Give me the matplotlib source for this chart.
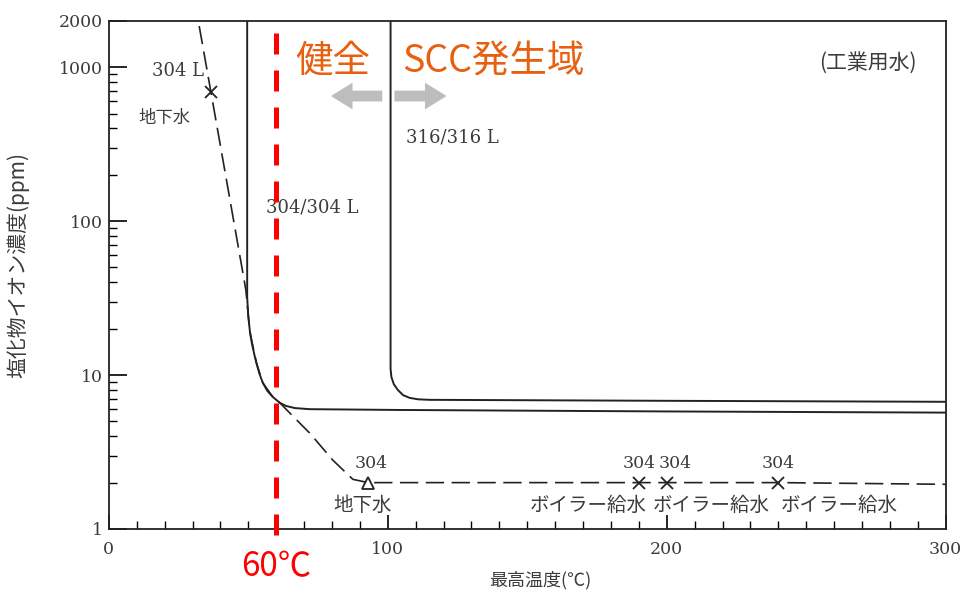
import numpy as np
import matplotlib
matplotlib.use("Agg")
from matplotlib import pyplot as plt
from matplotlib.ticker import LogLocator, NullFormatter
from matplotlib.patches import FancyArrowPatch

JP = ["Noto Sans CJK JP", "DejaVu Sans"]
NUM = "DejaVu Serif"
INK = "#222222"
TXT = "#3c3c3c"

# 304/304L limit curve (temp degC, chloride ppm)
t304 = [49.6, 49.6, 50.0, 50.6, 51.3, 52.2, 52.9, 54.0, 55.2, 56.8, 58.8, 61.3, 63.5, 66.7, 72, 104, 200, 300]
c304 = [2000, 32, 24, 19, 16, 13.5, 12.0, 10.2, 8.9, 7.9, 7.2, 6.6, 6.3, 6.1, 6.0, 5.93, 5.8, 5.7]

# 316/316L limit curve
t316 = [101.0, 101.0, 101.3, 102.2, 103.6, 105.5, 107.9, 111, 115, 200, 300]
c316 = [2000, 11, 9.7, 8.7, 8.0, 7.4, 7.1, 6.95, 6.9, 6.8, 6.7]

# observed SCC boundary (dashed)
t_obs = [32.4, 36.6, 49.1, 49.6, 50.6, 52.9, 55.2, 58.8, 61.3, 66, 72, 80.3, 87.5, 93, 190, 200, 240, 300]
c_obs = [1850, 690, 36, 29, 19, 12.0, 8.9, 7.2, 6.6, 5.4, 4.2, 2.8, 2.1, 2.0, 2.0, 2.0, 2.0, 1.95]

# cracking cases
cross_t = [36.6, 190, 200, 240]
cross_c = [690, 2.0, 2.0, 2.0]
tri_t = [93]
tri_c = [2.0]

limit_temp = 60

fig = plt.figure(figsize=(9.63, 5.95), dpi=100)
ax = fig.add_axes([0.113, 0.111, 0.869, 0.854])

ax.plot(t_obs, c_obs, color=INK, lw=1.2, dashes=(11, 4.5))
ax.plot(t304, c304, color=INK, lw=1.4)
ax.plot(t316, c316, color=INK, lw=1.4)
ax.plot(cross_t, cross_c, ls="none", marker="x", ms=9, mew=1.3, color=INK)
ax.plot(tri_t, tri_c, ls="none", marker="^", ms=8, mew=1.3, mfc="white", color=INK)

ax.set_yscale("log")
ax.set_xlim(0, 300)
ax.set_ylim(1, 2000)

ax.set_xticks([0, 100, 200, 300])
ax.set_xticks(np.arange(0, 301, 10), minor=True)
ax.set_yticks([1, 10, 100, 1000, 2000])
ax.set_yticklabels(["1", "10", "100", "1000", "2000"])
ax.yaxis.set_minor_locator(LogLocator(base=10, subs=range(2, 10)))
ax.yaxis.set_minor_formatter(NullFormatter())

ax.tick_params(axis="x", which="major", direction="in", length=10, width=1.2, pad=9,
               labelsize=12.5, labelcolor=TXT)
ax.tick_params(axis="x", which="minor", direction="in", length=6, width=1.0)
ax.tick_params(axis="y", which="major", direction="in", length=13, width=1.2, pad=4,
               labelsize=12.5, labelcolor=TXT)
ax.tick_params(axis="y", which="minor", direction="in", length=6, width=1.0)
for lab in ax.get_xticklabels() + ax.get_yticklabels():
    lab.set_fontfamily(NUM)
for s in ax.spines.values():
    s.set_linewidth(1.3)
    s.set_color(INK)

ax.set_xlabel("最高温度(℃)", family=JP, fontsize=13, color=TXT)
ax.xaxis.set_label_coords(0.515, -0.083)
ax.set_ylabel("塩化物イオン濃度(ppm)", family=JP, fontsize=15, color=TXT)
ax.yaxis.set_label_coords(-0.095, 0.52)

# curve and case labels
ax.text(24.7, 950, "304 L", family=NUM, fontsize=13, color=TXT, ha="center", va="center")
ax.text(20, 467, "地下水", family=JP, fontsize=12.5, color=TXT, ha="center", va="center")
ax.text(72.8, 123, "304/304 L", family=NUM, fontsize=13, color=TXT, ha="center", va="center")
ax.text(123, 351, "316/316 L", family=NUM, fontsize=13, color=TXT, ha="center", va="center")
ax.text(272, 1062, "(工業用水)", family=JP, fontsize=15, color=TXT, ha="center", va="center")
for x, s in [(94, "304"), (190.3, "304"), (202.9, "304"), (240, "304")]:
    ax.text(x, 2.68, s, family=NUM, fontsize=12.5, color=TXT, ha="center", va="center")
ax.text(91, 1.43, "地下水", family=JP, fontsize=14, color=TXT, ha="center", va="center")
for x in [171.7, 216, 262]:
    ax.text(x, 1.43, "ボイラー給水", family=JP, fontsize=14, color=TXT, ha="center", va="center")

# 60 degC guide
ax.plot([limit_temp, limit_temp], [0.91, 1800], color="#ff0000", lw=3.6,
        dashes=(4.2, 3.2), clip_on=False, zorder=5)
ax.text(limit_temp, 0.57, f"{limit_temp}℃", family=JP, fontsize=24, color="#ff0000",
        ha="center", va="center", clip_on=False)

orange = "#e8600f"
ax.text(0.268, 0.919, "健全", family=JP, fontsize=27, color=orange,
        ha="center", va="center", transform=ax.transAxes)
ax.text(0.459, 0.919, "SCC発生域", family=JP, fontsize=27, color=orange,
        ha="center", va="center", transform=ax.transAxes)
for x0, x1 in [(0.330, 0.262), (0.338, 0.407)]:
    ax.add_patch(FancyArrowPatch((x0, 0.852), (x1, 0.852), transform=ax.transAxes,
                                 arrowstyle="simple,head_width=1.6,head_length=1.3,tail_width=0.65",
                                 mutation_scale=12, color="#bdbdbd", lw=0, zorder=4))

fig.savefig("out.png", dpi=100)
